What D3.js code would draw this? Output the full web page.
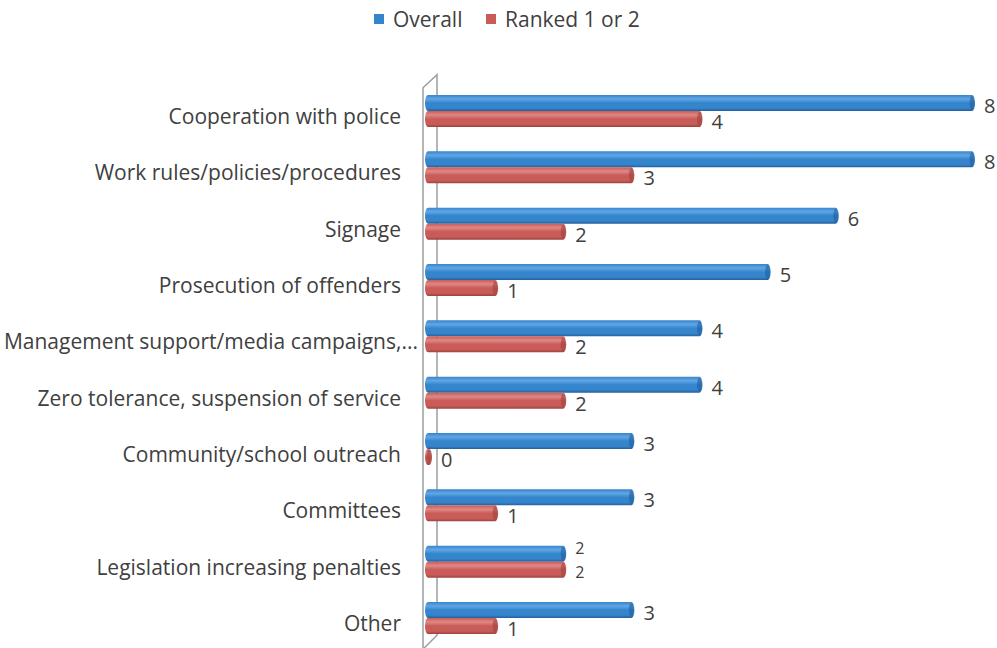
<!DOCTYPE html>
<html><head><meta charset="utf-8">
<script src="https://cdn.jsdelivr.net/npm/d3@7"></script>
<style>body{margin:0;background:#fff}svg{display:block}</style>
</head><body>
<svg id="c" width="997" height="648"></svg>
<script>
const categories = ["Cooperation with police","Work rules/policies/procedures","Signage ","Prosecution of offenders","Management support/media campaigns,...","Zero tolerance, suspension of service","Community/school outreach","Committees","Legislation increasing penalties","Other"];
const overall = [8,8,6,5,4,4,3,3,2,3];
const ranked = [4,3,2,1,2,2,0,1,2,1];
const seriesNames = ["Overall","Ranked 1 or 2"];
const colors = {"Overall":["#62a6e4","#3585cd","#245f9c"], "Ranked 1 or 2":["#e08885","#c95c58","#9c423f"]};

(function(){
const svg = d3.select("#c");
const font = "'Open Sans', Lato, sans-serif";
const textColor = "#404040";

const x = d3.scaleLinear().domain([0,8]).range([430,975]);
const y = d3.scaleBand().domain(categories).range([82.8,646.2]).paddingInner(0);
const inner = d3.scaleBand().domain(seriesNames).range([y.bandwidth()/2-16, y.bandwidth()/2+16]);

const defs = svg.append("defs");
seriesNames.forEach((s,i)=>{
  const g = defs.append("linearGradient").attr("id","g"+i).attr("x1",0).attr("x2",0).attr("y1",0).attr("y2",1);
  g.append("stop").attr("offset","0%").attr("stop-color",colors[s][1]);
  g.append("stop").attr("offset","25%").attr("stop-color",colors[s][0]);
  g.append("stop").attr("offset","50%").attr("stop-color",colors[s][1]);
  g.append("stop").attr("offset","82%").attr("stop-color",colors[s][1]);
  g.append("stop").attr("offset","100%").attr("stop-color",colors[s][2]);
});

// 3D wall
const x0 = x(0), yTop = y.range()[0], yBot = y.range()[1];
const wall = svg.append("g").attr("fill","none").attr("stroke","#9a9ea3").attr("stroke-width",1.5);
wall.append("path").attr("d",`M${x0-7},${yBot+4} L${x0-7},${yTop+5} L${x0+7},${yTop-8} L${x0+7},${yBot-11} L${x0-6},${yBot+2}`);

// Category labels
svg.append("g").selectAll("text").data(categories).join("text")
  .attr("x",d=>d.endsWith("...")?418:401).attr("y",d=>y(d)+y.bandwidth()/2+13)
  .attr("text-anchor","end").attr("font-family",font).attr("font-size",21).attr("fill",textColor)
  .text(d=>d);

const data = [];
categories.forEach((c,i)=>{
  const close = Math.abs(overall[i]-ranked[i]) < 0.5;
  data.push({cat:c,s:"Overall",si:0,v:overall[i],close});
  data.push({cat:c,s:"Ranked 1 or 2",si:1,v:ranked[i],close});
});
const bh = inner.bandwidth();
const bars = svg.append("g").selectAll("g").data(data).join("g")
  .attr("transform",d=>`translate(0,${y(d.cat)+inner(d.s)})`);
bars.append("path")
  .attr("d",d=>{
    const xs = x0-2, xe = Math.max(x(d.v), x0+2), r = bh/2, rx = 3;
    return `M${xs},0 L${xe-rx},0 A${rx},${r} 0 0 1 ${xe-rx},${bh} L${xs},${bh} A${rx},${r} 0 0 1 ${xs},0 Z`;
  })
  .attr("fill",d=>`url(#g${d.si})`);
bars.append("ellipse")
  .attr("cx",d=>Math.max(x(d.v), x0+2)-3).attr("cy",bh/2).attr("rx",2.5).attr("ry",bh/2-1)
  .attr("fill",d=>colors[d.s][2]).attr("opacity",0.6);
bars.append("text")
  .attr("x",d=>Math.max(x(d.v),x0+2)+9).attr("y",d=>bh/2+(d.close?(d.si?8:0):10))
  .attr("font-family",font).attr("font-size",d=>d.close?16:20).attr("fill",textColor)
  .text(d=>d.v);

// Legend
const leg = svg.append("g");
const lx = [374,486];
seriesNames.forEach((s,i)=>{
  leg.append("rect").attr("x",lx[i]).attr("y",14).attr("width",10).attr("height",10).attr("fill",colors[s][1]);
  leg.append("text").attr("x",lx[i]+19).attr("y",27).attr("font-family",font).attr("font-size",21).attr("fill",textColor).text(s);
});
})();
</script>
</body></html>
